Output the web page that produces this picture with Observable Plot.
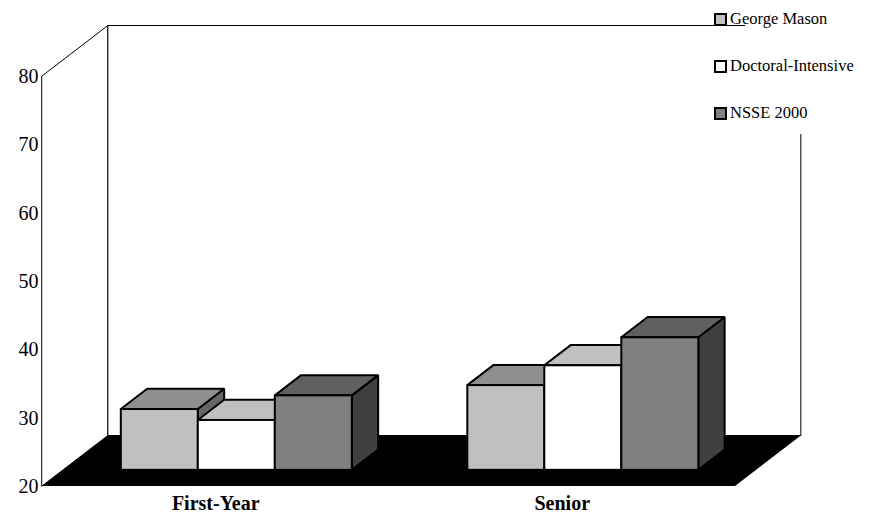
<!DOCTYPE html>
<html>
<head>
<meta charset="utf-8">
<script src="https://cdn.jsdelivr.net/npm/d3@7"></script>
<script src="https://cdn.jsdelivr.net/npm/@observablehq/plot@0.6"></script>
<style>
  html, body { margin: 0; padding: 0; background: #fff; }
  #chart { position: relative; width: 871px; height: 515px; font-family: "Liberation Serif", Tinos, "Times New Roman", Times, "DejaVu Serif", serif; }
  #legend { position: absolute; left: 0; top: 0; }
  .legend-cover { position: absolute; left: 745px; top: 0; width: 126px; height: 134px; background: #fff; }
  .legend-item { position: absolute; display: flex; align-items: center; font-size: 16.5px; color: #000; white-space: nowrap; }
  .legend-swatch { width: 9px; height: 9px; border: 2px solid #000; margin-right: 3px; }
</style>
</head>
<body>
<div id="chart"></div>
<script>
// Survey results by class level
const categories = ["First-Year", "Senior"];
const series = ["George Mason", "Doctoral-Intensive", "NSSE 2000"];
const georgeMason = [28.9, 32.4];
const doctoralIntensive = [27.3, 35.3];
const nsse2000 = [30.9, 39.4];
const yTicks = [20, 30, 40, 50, 60, 70, 80];

const seriesValues = [georgeMason, doctoralIntensive, nsse2000];

const SERIF = "'Liberation Serif', Tinos, 'Times New Roman', Times, 'DejaVu Serif', serif";

// Shading for each series: front, top and side faces of the columns
const faces = [
  {front: "#c0c0c0", top: "#8f8f8f", side: "#666666"},
  {front: "#ffffff", top: "#c0c0c0", side: "#9a9a9a"},
  {front: "#808080", top: "#606060", side: "#404040"}
];

// Oblique depth of the floor, in data units (x: category slots, y: value units)
const DX = 0.19;
const DY = 7.39;
const BASE = 20;
const TOP = 80;
// Columns sit between these fractions of the floor depth
const F0 = 0.32;
const F1 = 0.72;
const BAR_W = 2 / 9;

const wallStyle = {fill: "#fff", stroke: "#000", strokeWidth: 1};

const marks = [
  // left wall
  Plot.areaY([{x: 0, y1: BASE, y2: TOP}, {x: DX, y1: BASE + DY, y2: TOP + DY}],
    {x: "x", y1: "y1", y2: "y2", ...wallStyle}),
  // back wall
  Plot.rect([{}], {x1: DX, x2: 2 + DX, y1: BASE + DY, y2: TOP + DY, ...wallStyle}),
  // floor
  Plot.areaX([{y: BASE, x1: 0, x2: 2}, {y: BASE + DY, x1: DX, x2: 2 + DX}],
    {y: "y", x1: "x1", x2: "x2", fill: "#000"})
];

const barStroke = {stroke: "#000", strokeWidth: 2, strokeLinejoin: "miter"};

categories.forEach((cat, ci) => {
  series.forEach((name, si) => {
    const v = seriesValues[si][ci];
    const xl = ci + 0.5 - 1.5 * BAR_W + si * BAR_W;
    const xr = xl + BAR_W;
    const c = faces[si];
    // side face
    marks.push(Plot.areaY(
      [{x: xr + F0 * DX, y1: BASE + F0 * DY, y2: v + F0 * DY},
       {x: xr + F1 * DX, y1: BASE + F1 * DY, y2: v + F1 * DY}],
      {x: "x", y1: "y1", y2: "y2", fill: c.side, ...barStroke}));
    // top face
    marks.push(Plot.areaX(
      [{y: v + F0 * DY, x1: xl + F0 * DX, x2: xr + F0 * DX},
       {y: v + F1 * DY, x1: xl + F1 * DX, x2: xr + F1 * DX}],
      {y: "y", x1: "x1", x2: "x2", fill: c.top, ...barStroke}));
    // front face
    marks.push(Plot.rect([{}],
      {x1: xl + F0 * DX, x2: xr + F0 * DX, y1: BASE + F0 * DY, y2: v + F0 * DY, fill: c.front, ...barStroke}));
  });
});

// value axis on the front-left edge
marks.push(Plot.axisY(yTicks, {anchor: "left", tickSize: 0, tickPadding: 4, fontSize: 20, label: null, fill: "#000"}));

// category labels under the floor
marks.push(Plot.text(categories, {
  x: (d, i) => i + 0.5, y: () => BASE, text: d => d,
  lineAnchor: "top", dy: 9, fontSize: 20, fontWeight: "bold", fill: "#000"
}));

const plot = Plot.plot({
  width: 871,
  height: 515,
  marginLeft: 42,
  marginRight: 136,
  marginTop: 76,
  marginBottom: 29,
  x: {type: "linear", domain: [0, 2], axis: null},
  y: {type: "linear", domain: [BASE, TOP], axis: null},
  style: {fontFamily: SERIF, background: "#fff", overflow: "visible"},
  marks
});

const chart = document.getElementById("chart");
chart.appendChild(plot);

// legend in the top-right corner
const legend = document.createElement("div");
legend.id = "legend";
const cover = document.createElement("div");
cover.className = "legend-cover";
legend.appendChild(cover);
series.forEach((name, si) => {
  const item = document.createElement("div");
  item.className = "legend-item";
  item.style.left = "714px";
  item.style.top = (9 + si * 47) + "px";
  const sw = document.createElement("span");
  sw.className = "legend-swatch";
  sw.style.background = faces[si].front;
  const label = document.createElement("span");
  label.textContent = name;
  item.appendChild(sw);
  item.appendChild(label);
  legend.appendChild(item);
});
chart.appendChild(legend);
</script>
</body>
</html>
